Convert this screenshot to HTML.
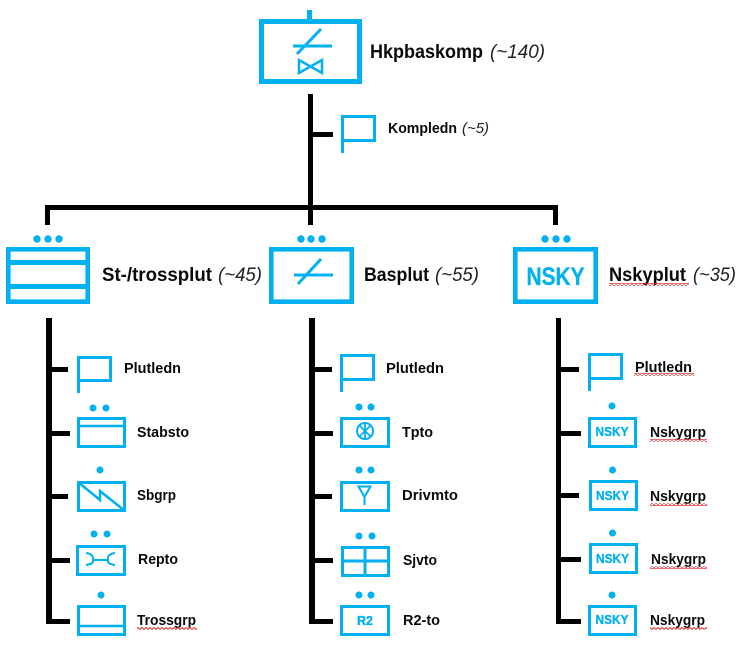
<!DOCTYPE html>
<html><head><meta charset="utf-8"><style>
html,body{margin:0;padding:0;background:#fff}
svg{display:block}
text{font-family:"Liberation Sans",sans-serif;fill:#0a0a0a}
.b{font-weight:bold}
.i{font-style:italic;fill:#222}
.c{font-weight:bold;fill:#00b0f0;text-anchor:middle;stroke:#00b0f0;stroke-width:.3}
.u{fill:none;stroke:#00b0f0}
.d{fill:#00b0f0}
</style></head><body>
<svg width="744" height="651" viewBox="0 0 744 651" xmlns="http://www.w3.org/2000/svg">
<defs><pattern id="sq" width="4" height="3" patternUnits="userSpaceOnUse"><path d="M0 2.500L2 .5L4 2.500" fill="none" stroke="#e03030" stroke-width="1"/></pattern></defs>
<rect width="744" height="651" fill="#fff"/>

<!-- black connectors -->
<g fill="#000">
<rect x="308" y="94" width="5" height="131"/>
<rect x="308" y="132" width="25" height="5"/>
<rect x="45" y="205" width="513" height="5"/>
<rect x="45" y="205" width="5" height="20"/>
<rect x="553" y="205" width="5" height="20"/>
<rect x="46" y="318" width="6" height="306"/>
<rect x="46" y="367" width="22" height="5"/>
<rect x="46" y="431" width="24" height="5"/>
<rect x="46" y="494" width="22" height="5"/>
<rect x="46" y="558" width="24" height="5"/>
<rect x="46" y="619" width="24" height="5"/>
<rect x="309" y="318" width="6" height="306"/>
<rect x="309" y="367" width="23" height="5"/>
<rect x="309" y="431" width="24" height="5"/>
<rect x="309" y="494" width="23" height="5"/>
<rect x="309" y="558" width="24" height="5"/>
<rect x="309" y="619" width="24" height="5"/>
<rect x="556" y="318" width="5" height="306"/>
<rect x="556" y="367" width="23" height="5"/>
<rect x="556" y="431" width="25" height="5"/>
<rect x="556" y="493" width="23" height="5"/>
<rect x="556" y="557" width="25" height="5"/>
<rect x="556" y="619" width="25" height="5"/>
</g>

<!-- top -->
<rect class="d" x="307" y="10" width="5" height="10"/>
<rect class="u" x="261.500" y="21.500" width="98" height="60" stroke-width="5"/>
<path class="u" stroke-width="3" d="M293 46H332M297 54L321 29"/>
<path class="u" stroke-width="2.500" d="M299 60V73L322 60V73Z"/>
<path class="u" stroke-width="3" d="M342.500 153V116.500H374.500V140.500H342.500"/>
<text class="b" x="370" y="58" font-size="19" textLength="113" lengthAdjust="spacingAndGlyphs">Hkpbaskomp</text>
<text class="i" x="490" y="58" font-size="19" textLength="55" lengthAdjust="spacingAndGlyphs">(~140)</text>
<text class="b" x="388" y="133" font-size="15" textLength="69" lengthAdjust="spacingAndGlyphs">Kompledn</text>
<text class="i" x="462" y="133" font-size="15" textLength="27" lengthAdjust="spacingAndGlyphs">(~5)</text>

<!-- group dots -->
<g class="d">
<circle cx="37" cy="239" r="3.700"/><circle cx="48" cy="239" r="3.700"/><circle cx="59" cy="239" r="3.700"/>
<circle cx="301" cy="239" r="3.700"/><circle cx="311" cy="239" r="3.700"/><circle cx="322" cy="239" r="3.700"/>
<circle cx="545" cy="239" r="3.700"/><circle cx="556" cy="239" r="3.700"/><circle cx="567" cy="239" r="3.700"/>
</g>

<!-- group boxes -->
<rect class="u" x="8.300" y="249.300" width="79.400" height="52.400" stroke-width="4.600"/>
<path class="u" stroke-width="5" d="M6 262.500H90M6 286.500H90"/>
<rect class="u" x="271.300" y="249.300" width="80.400" height="52.400" stroke-width="4.600"/>
<path class="u" stroke-width="3" d="M294 275H333M298 284L321 259"/>
<rect class="u" x="515.300" y="249.300" width="80.400" height="52.400" stroke-width="4.600"/>
<text class="c" x="555.500" y="285" font-size="25" textLength="58" lengthAdjust="spacingAndGlyphs">NSKY</text>

<text class="b" x="102" y="281" font-size="19" textLength="110" lengthAdjust="spacingAndGlyphs">St-/trossplut</text>
<text class="i" x="218" y="281" font-size="19" textLength="44" lengthAdjust="spacingAndGlyphs">(~45)</text>
<text class="b" x="364" y="281" font-size="19" textLength="65" lengthAdjust="spacingAndGlyphs">Basplut</text>
<text class="i" x="435" y="281" font-size="19" textLength="44" lengthAdjust="spacingAndGlyphs">(~55)</text>
<text class="b" x="609" y="281" font-size="19" textLength="77" lengthAdjust="spacingAndGlyphs">Nskyplut</text>
<text class="i" x="693" y="281" font-size="19" textLength="43" lengthAdjust="spacingAndGlyphs">(~35)</text>
<rect x="609" y="283" width="80" height="3" fill="url(#sq)"/>

<!-- column 1 -->
<path class="u" stroke-width="3" d="M78.500 393V357.500H110.500V380.500H78.500"/>
<g class="d"><circle cx="93" cy="408" r="3.500"/><circle cx="106" cy="408" r="3.500"/><circle cx="100" cy="470" r="3.500"/><circle cx="94" cy="534" r="3.500"/><circle cx="107" cy="534" r="3.500"/><circle cx="101" cy="595" r="3.500"/></g>
<rect class="u" x="78.500" y="418.500" width="46" height="28" stroke-width="3"/>
<path class="u" stroke-width="2.500" d="M77 426H126"/>
<rect class="u" x="78.500" y="482.500" width="46" height="28" stroke-width="3"/>
<path class="u" stroke-width="2.500" d="M78 482L100 500V491L125 511"/>
<rect class="u" x="77.500" y="546.500" width="47" height="28" stroke-width="3"/>
<path class="u" stroke-width="2" d="M93 560H108M86 553Q94 554 93 560Q94 564 86 565M115 553Q107 554 108 560Q107 564 115 565"/>
<rect class="u" x="78.500" y="606.500" width="46" height="28" stroke-width="3"/>
<path class="u" stroke-width="2.500" d="M77 626H126"/>
<text class="b" x="124" y="373" font-size="15" textLength="57" lengthAdjust="spacingAndGlyphs">Plutledn</text>
<text class="b" x="137" y="437" font-size="15" textLength="52" lengthAdjust="spacingAndGlyphs">Stabsto</text>
<text class="b" x="137" y="500" font-size="15" textLength="39" lengthAdjust="spacingAndGlyphs">Sbgrp</text>
<text class="b" x="138" y="564" font-size="15" textLength="40" lengthAdjust="spacingAndGlyphs">Repto</text>
<text class="b" x="137" y="625" font-size="15" textLength="59" lengthAdjust="spacingAndGlyphs">Trossgrp</text>
<rect x="137" y="627" width="60" height="3" fill="url(#sq)"/>

<!-- column 2 -->
<path class="u" stroke-width="3" d="M341.500 392V355.500H373.500V379.500H341.500"/>
<g class="d"><circle cx="359" cy="407" r="3.500"/><circle cx="371" cy="407" r="3.500"/><circle cx="359" cy="470" r="3.500"/><circle cx="371" cy="470" r="3.500"/><circle cx="359" cy="536" r="3.500"/><circle cx="372" cy="536" r="3.500"/><circle cx="359" cy="595" r="3.500"/><circle cx="371" cy="595" r="3.500"/></g>
<rect class="u" x="341.500" y="418.500" width="47" height="28" stroke-width="3"/>
<circle class="u" cx="365" cy="431" r="8" stroke-width="2"/>
<path class="u" stroke-width="1.800" d="M365 423V439M359.500 425.500L370.500 436.500M370.500 425.500L359.500 436.500"/>
<rect class="u" x="341.500" y="482.500" width="47" height="28" stroke-width="3"/>
<path class="u" stroke-width="2" d="M364.500 505V497M358.500 486.500H370.500L364.500 497Z"/>
<rect class="u" x="342.500" y="547.500" width="46" height="28" stroke-width="3"/>
<path class="u" stroke-width="3" d="M342 561H389M365 547V576"/>
<rect class="u" x="341.500" y="606.500" width="47" height="28" stroke-width="3"/>
<text class="c" x="365" y="625" font-size="13" textLength="16" lengthAdjust="spacingAndGlyphs">R2</text>
<text class="b" x="386" y="373" font-size="15" textLength="58" lengthAdjust="spacingAndGlyphs">Plutledn</text>
<text class="b" x="402" y="437" font-size="15" textLength="31" lengthAdjust="spacingAndGlyphs">Tpto</text>
<text class="b" x="402" y="500" font-size="15" textLength="56" lengthAdjust="spacingAndGlyphs">Drivmto</text>
<text class="b" x="403" y="565" font-size="15" textLength="34" lengthAdjust="spacingAndGlyphs">Sjvto</text>
<text class="b" x="403" y="625" font-size="15" textLength="37" lengthAdjust="spacingAndGlyphs">R2-to</text>

<!-- column 3 -->
<path class="u" stroke-width="3" d="M589.500 391V354.500H621.500V378.500H589.500"/>
<g class="d"><circle cx="612" cy="406" r="3.500"/><circle cx="612.500" cy="470" r="3.500"/><circle cx="612.500" cy="533" r="3.500"/><circle cx="612" cy="595" r="3.500"/></g>
<rect class="u" x="589.500" y="418.500" width="46" height="28" stroke-width="3"/>
<text class="c" x="612" y="436" font-size="12.500" textLength="33" lengthAdjust="spacingAndGlyphs">NSKY</text>
<rect class="u" x="590.500" y="481.500" width="46" height="28" stroke-width="3"/>
<text class="c" x="612.500" y="500" font-size="12.500" textLength="33" lengthAdjust="spacingAndGlyphs">NSKY</text>
<rect class="u" x="590.500" y="544.500" width="46" height="28" stroke-width="3"/>
<text class="c" x="612.500" y="563" font-size="12.500" textLength="33" lengthAdjust="spacingAndGlyphs">NSKY</text>
<rect class="u" x="589.500" y="606.500" width="46" height="28" stroke-width="3"/>
<text class="c" x="612" y="624" font-size="12.500" textLength="33" lengthAdjust="spacingAndGlyphs">NSKY</text>
<text class="b" x="635" y="372" font-size="15" textLength="57" lengthAdjust="spacingAndGlyphs">Plutledn</text>
<text class="b" x="650" y="437" font-size="15" textLength="56" lengthAdjust="spacingAndGlyphs">Nskygrp</text>
<text class="b" x="650" y="501" font-size="15" textLength="56" lengthAdjust="spacingAndGlyphs">Nskygrp</text>
<text class="b" x="651" y="564" font-size="15" textLength="55" lengthAdjust="spacingAndGlyphs">Nskygrp</text>
<text class="b" x="650" y="625" font-size="15" textLength="55" lengthAdjust="spacingAndGlyphs">Nskygrp</text>
<rect x="634" y="373" width="60" height="3" fill="url(#sq)"/>
<rect x="650" y="439" width="57" height="3" fill="url(#sq)"/>
<rect x="650" y="503" width="57" height="3" fill="url(#sq)"/>
<rect x="650" y="566" width="57" height="3" fill="url(#sq)"/>
<rect x="650" y="627" width="57" height="3" fill="url(#sq)"/>
</svg>
</body></html>
